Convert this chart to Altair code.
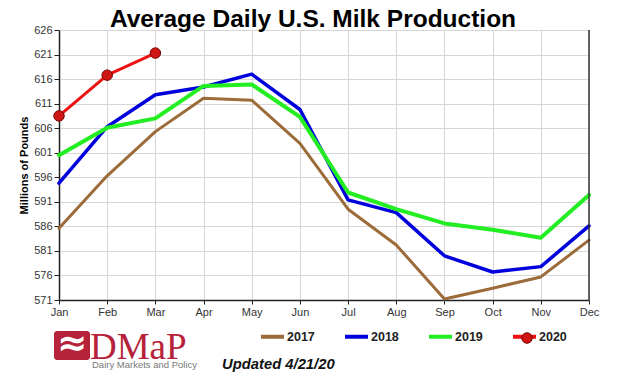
import altair as alt
import pandas as pd

months = ["Jan", "Feb", "Mar", "Apr", "May", "Jun", "Jul", "Aug", "Sep", "Oct", "Nov", "Dec"]
years = ["2017", "2018", "2019", "2020"]
v2017 = [585.6, 596.3, 605.3, 612.1, 611.7, 602.9, 589.5, 582.2, 571.2, 573.4, 575.7, 583.2]
v2018 = [594.8, 606.3, 612.8, 614.4, 617.0, 609.8, 591.4, 588.8, 580.0, 576.7, 577.8, 586.1]
v2019 = [600.5, 606.1, 608.0, 614.6, 614.9, 608.3, 592.9, 589.5, 586.6, 585.3, 583.7, 592.4]
v2020 = [608.5, 616.8, 621.3]
y_ticks = [571, 576, 581, 586, 591, 596, 601, 606, 611, 616, 621, 626]
title_text = "Average Daily U.S. Milk Production"

colors = ["#9C6B3A", "#0000DD", "#22EE22", "#EE1111"]
widths = [3, 3.5, 4, 3]

rows = []
for yr, vals in zip(years, [v2017, v2018, v2019, v2020]):
    for m, v in zip(months, vals):
        rows.append({"month": m, "year": yr, "value": v})
df = pd.DataFrame(rows)
df20 = df[df["year"] == "2020"]
one = pd.DataFrame({"k": [0]})

FONT = "Liberation Sans"

x_enc = alt.X(
    "month:N",
    sort=months,
    scale=alt.Scale(type="point", padding=0, domain=months),
    axis=alt.Axis(
        title=None, labelAngle=0, grid=True, gridColor="#d6d6d6", tickSize=4,
        labelPadding=2, labelFontSize=11, labelColor="#333", tickColor="#222",
        domainColor="#222", domainWidth=1.5, labelFont=FONT,
    ),
)
y_enc = alt.Y(
    "value:Q",
    scale=alt.Scale(domain=[571, 626], nice=False, zero=False),
    axis=alt.Axis(
        values=y_ticks, tickCount=20, title="Millions of Pounds", titleFontSize=11,
        titleFontWeight="bold", titleFont=FONT, titlePadding=4, titleColor="#000",
        grid=True, gridColor="#d6d6d6", tickSize=5, labelPadding=2,
        labelFontSize=11, labelColor="#333", tickColor="#222", labelOverlap=False,
        domainColor="#222", domainWidth=1.5, labelFont=FONT,
    ),
)

color_enc = alt.Color(
    "year:N",
    scale=alt.Scale(domain=years, range=colors),
    legend=alt.Legend(
        title=None, orient="none", direction="horizontal", legendX=200, legendY=293,
        columns=4, gridAlign="all",
        symbolType="stroke", symbolSize=529, symbolStrokeWidth=4,
        labelFont=FONT, labelFontSize=12.5, labelFontWeight="bold", labelColor="#222",
        labelOffset=1, columnPadding=22, labelLimit=40,
    ),
)

line_layers = []
for yr, w in zip(years, widths):
    line_layers.append(
        alt.Chart(df).transform_filter(alt.datum.year == yr)
        .mark_line(strokeWidth=w, strokeCap="round", strokeJoin="round")
        .encode(x=x_enc, y=y_enc, color=color_enc)
    )

points = alt.Chart(df20).mark_point(
    filled=True, size=110, stroke="#770000", strokeWidth=1, opacity=1
).encode(
    x=alt.X("month:N", sort=months),
    y="value:Q",
    fill=alt.Fill(
        "year:N",
        scale=alt.Scale(domain=["2020"], range=["#D01515"]),
        legend=alt.Legend(
            title=None, orient="none", legendX=462, legendY=302,
            symbolType="circle", symbolSize=110, symbolStrokeColor="#770000",
            symbolStrokeWidth=1, labelExpr="''", labelFontSize=1,
        ),
    ),
)

right_border = alt.Chart(one).mark_rule(color="#333", strokeWidth=1.5).encode(
    x=alt.value(530), y=alt.value(0), y2=alt.value(270)
)

title_mark = alt.Chart(one).mark_text(
    text=title_text, font=FONT, fontSize=24.5, fontWeight="bold", color="#000",
    align="center", baseline="alphabetic",
).encode(x=alt.value(254), y=alt.value(-3))

logo_box = alt.Chart(one).mark_rect(color="#B5223A", cornerRadius=3).encode(
    x=alt.value(-5), x2=alt.value(31), y=alt.value(301), y2=alt.value(330)
)
logo_wave = alt.Chart(one).mark_text(
    text="≈", font="DejaVu Sans", fontSize=36, fontWeight="bold", color="white",
    align="center", baseline="middle",
).encode(x=alt.value(13), y=alt.value(314))
logo_text = alt.Chart(one).mark_text(
    text="DMaP", font="Liberation Serif", fontSize=37, color="#B5223A",
    align="left", baseline="alphabetic",
).encode(x=alt.value(31), y=alt.value(329))
logo_sub = alt.Chart(one).mark_text(
    text="Dairy Markets and Policy", font=FONT, fontSize=9.5, color="#777",
    align="left", baseline="alphabetic",
).encode(x=alt.value(33), y=alt.value(338))
updated = alt.Chart(one).mark_text(
    text="Updated 4/21/20", font=FONT, fontSize=14.8, fontWeight="bold",
    fontStyle="italic", color="#111", align="left", baseline="alphabetic",
).encode(x=alt.value(163), y=alt.value(339))

chart = alt.layer(
    *line_layers, points, right_border, title_mark,
    logo_box, logo_wave, logo_text, logo_sub, updated
).properties(
    width=530,
    height=270,
    autosize=alt.AutoSizeParams(type="none"),
    padding={"left": 51, "top": 22, "right": 22, "bottom": 72},
).configure_view(stroke=None).configure(background="white")

chart.save("out.html", embed_options={"renderer": "svg", "actions": False})
